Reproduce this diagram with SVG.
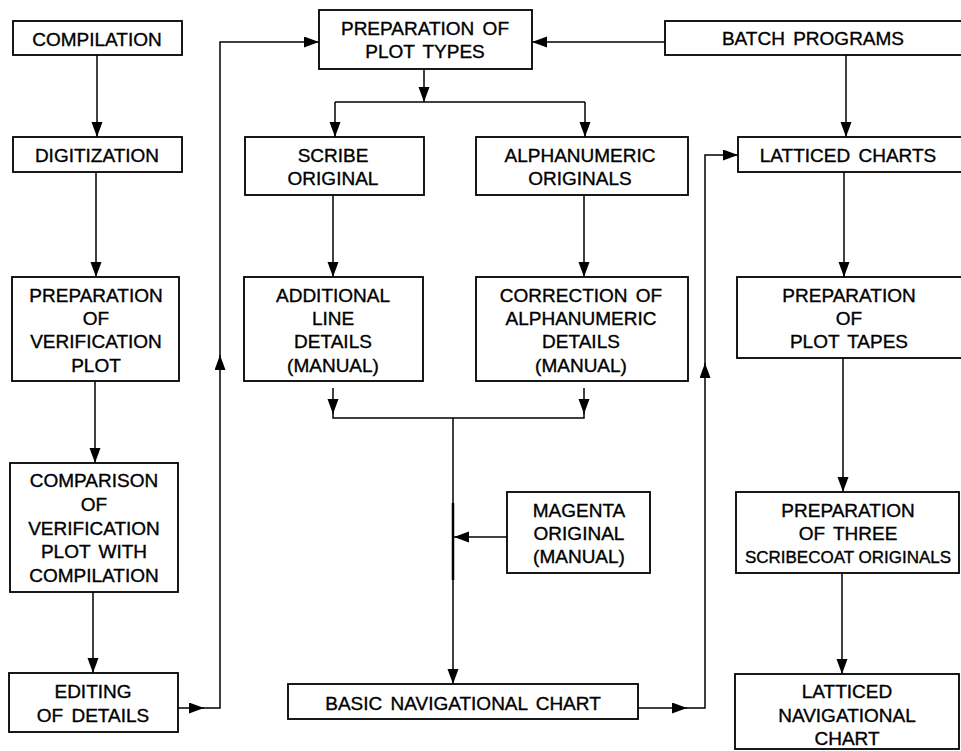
<svg xmlns="http://www.w3.org/2000/svg" width="961" height="751" viewBox="0 0 961 751">
<defs>
<marker id="ah" markerUnits="userSpaceOnUse" markerWidth="16" markerHeight="12" refX="15" refY="5.5" orient="auto">
<path d="M0,0 L15,5.5 L0,11 z" fill="#000"/>
</marker>
<style>
.box{fill:#fff;stroke:#000;stroke-width:1.8}
.c{fill:none;stroke:#000;stroke-width:1.5}
.a{marker-end:url(#ah)}
text{font-family:"Liberation Sans",Arial,sans-serif;font-size:19px;fill:#000;stroke:#000;stroke-width:0.35;text-anchor:middle;word-spacing:3px}
</style>
</defs>
<rect width="961" height="751" fill="#fff"/>
<g id="connectors">
<path class="c a" d="M97,55 V137"/>
<path class="c a" d="M96,172 V277"/>
<path class="c a" d="M95,381 V463"/>
<path class="c a" d="M93,592 V673"/>
<path class="c a" d="M178,708 H204"/>
<path class="c a" d="M203,708 H220 V355"/>
<path class="c a" d="M220,356 V42 H319"/>
<path class="c a" d="M665,42 H532"/>
<path class="c a" d="M424,69 V102"/>
<path class="c" d="M335,102 H585"/>
<path class="c a" d="M335,102 V137"/>
<path class="c a" d="M585,102 V137"/>
<path class="c a" d="M333,195 V277"/>
<path class="c a" d="M584,195 V277"/>
<path class="c a" d="M333,388 V414"/>
<path class="c" d="M333,413 V418 H584 V413"/>
<path class="c a" d="M584,388 V414"/>
<path class="c a" d="M453,418 V684"/>
<path class="c" d="M453,503 V580" style="stroke-width:2.5"/>
<path class="c a" d="M507,537 H454"/>
<path class="c a" d="M638,708 H687"/>
<path class="c a" d="M686,708 H705 V363"/>
<path class="c a" d="M705,364 V155 H738"/>
<path class="c a" d="M846,55 V137"/>
<path class="c a" d="M844,172 V277"/>
<path class="c a" d="M843,358 V492"/>
<path class="c a" d="M842,573 V674"/>
</g>
<g id="compilation"><rect class="box" x="13" y="21" width="169" height="34"/><text x="97" y="46">COMPILATION</text></g>
<g id="digitization"><rect class="box" x="13" y="137" width="169" height="35"/><text x="97" y="162">DIGITIZATION</text></g>
<g id="prep-verification"><rect class="box" x="12" y="277" width="167" height="104"/><text x="96" y="302">PREPARATION</text><text x="96" y="325">OF</text><text x="96" y="348">VERIFICATION</text><text x="96" y="372">PLOT</text></g>
<g id="comparison"><rect class="box" x="10" y="463" width="168" height="129"/><text x="94" y="487">COMPARISON</text><text x="94" y="511">OF</text><text x="94" y="535">VERIFICATION</text><text x="94" y="558">PLOT WITH</text><text x="94" y="582">COMPILATION</text></g>
<g id="editing"><rect class="box" x="9" y="673" width="169" height="59"/><text x="93" y="698">EDITING</text><text x="93" y="722">OF DETAILS</text></g>
<g id="plot-types"><rect class="box" x="319" y="10" width="213" height="59"/><text x="425" y="35">PREPARATION OF</text><text x="425" y="58">PLOT TYPES</text></g>
<g id="batch"><rect class="box" x="665" y="21" width="305" height="34"/><text x="813" y="45">BATCH PROGRAMS</text></g>
<g id="scribe"><rect class="box" x="245" y="137" width="179" height="58"/><text x="333" y="162">SCRIBE</text><text x="333" y="185">ORIGINAL</text></g>
<g id="alphanumeric"><rect class="box" x="476" y="137" width="212" height="58"/><text x="580" y="162">ALPHANUMERIC</text><text x="580" y="185">ORIGINALS</text></g>
<g id="additional"><rect class="box" x="244" y="277" width="179" height="104"/><text x="333" y="302">ADDITIONAL</text><text x="333" y="325">LINE</text><text x="333" y="348">DETAILS</text><text x="333" y="372">(MANUAL)</text></g>
<g id="correction"><rect class="box" x="476" y="277" width="212" height="104"/><text x="581" y="302">CORRECTION OF</text><text x="581" y="325">ALPHANUMERIC</text><text x="581" y="348">DETAILS</text><text x="581" y="372">(MANUAL)</text></g>
<g id="magenta"><rect class="box" x="507" y="492" width="143" height="81"/><text x="579" y="517">MAGENTA</text><text x="579" y="540">ORIGINAL</text><text x="579" y="563">(MANUAL)</text></g>
<g id="basic"><rect class="box" x="288" y="684" width="350" height="35"/><text x="463" y="710">BASIC NAVIGATIONAL CHART</text></g>
<g id="latticed-charts"><rect class="box" x="738" y="137" width="232" height="35"/><text x="848" y="162">LATTICED CHARTS</text></g>
<g id="plot-tapes"><rect class="box" x="737" y="277" width="233" height="81"/><text x="849" y="302">PREPARATION</text><text x="849" y="325">OF</text><text x="849" y="348">PLOT TAPES</text></g>
<g id="scribecoat"><rect class="box" x="736" y="492" width="223" height="81"/><text x="848" y="517">PREPARATION</text><text x="848" y="540">OF THREE</text><text x="848" y="563" style="font-size:17px;word-spacing:0">SCRIBECOAT ORIGINALS</text></g>
<g id="latticed-nav"><rect class="box" x="735" y="674" width="224" height="75"/><text x="847" y="698">LATTICED</text><text x="847" y="722">NAVIGATIONAL</text><text x="847" y="745">CHART</text></g>
</svg>
